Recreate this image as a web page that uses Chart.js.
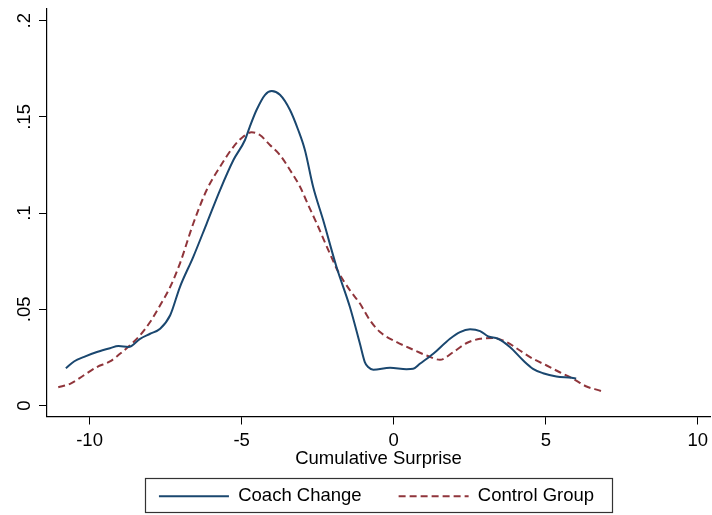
<!DOCTYPE html>
<html>
<head>
<meta charset="utf-8">
<script src="https://cdn.jsdelivr.net/npm/chart.js@4.4.1/dist/chart.umd.min.js"></script>
<style>
html,body{margin:0;padding:0;background:#fff;}
#wrap{position:relative;width:712px;height:515px;}
</style>
</head>
<body>
<div id="wrap"><canvas id="c" width="712" height="515"></canvas></div>
<script>
// ---- data ----
const coachX = [-10.78,-10.5,-10.2,-9.76,-9.33,-9.05,-8.72,-8.34,-8.01,-7.68,-7.35,-7.03,-6.59,-6.15,-5.71,-5.27,-4.89,-4.73,-4.51,-4.23,-4.01,-3.74,-3.41,-3.14,-2.92,-2.65,-2.32,-1.88,-1.44,-1.11,-0.95,-0.84,-0.67,-0.12,0.42,0.64,0.86,1.30,1.85,2.18,2.51,2.84,3.11,3.43,3.82,4.26,4.58,4.91,5.35,5.85,6.0];
const coachY = [0.0194,0.0230,0.0252,0.0278,0.0298,0.0309,0.0304,0.0347,0.0373,0.0399,0.0469,0.0616,0.0773,0.0946,0.1120,0.1276,0.1380,0.1450,0.1536,0.1615,0.1635,0.1615,0.1536,0.1432,0.1328,0.1137,0.0964,0.0720,0.0512,0.0321,0.0226,0.0200,0.0186,0.0196,0.0189,0.0191,0.0217,0.0269,0.0347,0.0382,0.0396,0.0387,0.0359,0.0347,0.0304,0.0234,0.0191,0.0168,0.0151,0.0144,0.0140];
const controlX = [-11.03,-10.64,-10.2,-9.76,-9.33,-9.0,-8.67,-8.34,-8.01,-7.68,-7.35,-7.03,-6.59,-6.15,-5.71,-5.27,-4.95,-4.67,-4.40,-4.07,-3.74,-3.41,-3.08,-2.81,-2.53,-2.10,-1.82,-1.44,-1.11,-0.78,-0.45,0.10,0.64,1.08,1.52,1.96,2.40,2.84,3.27,3.71,4.15,4.58,5.03,5.46,5.90,6.34,6.83,6.9];
const controlY = [0.0095,0.0113,0.0156,0.0200,0.0229,0.0269,0.0313,0.0365,0.0434,0.0521,0.0616,0.0738,0.0946,0.1120,0.1241,0.1345,0.1397,0.1420,0.1406,0.1354,0.1302,0.1224,0.1137,0.1042,0.0946,0.0790,0.0694,0.0599,0.0530,0.0443,0.0382,0.0330,0.0290,0.0260,0.0238,0.0278,0.0325,0.0347,0.0351,0.0330,0.0286,0.0243,0.0208,0.0173,0.0139,0.0099,0.0075,0.0070];
const xTicks = [-10,-5,0,5,10];
const yTicks = [0,0.05,0.1,0.15,0.2];
const seriesNames = ['Coach Change','Control Group'];
const xTitle = 'Cumulative Surprise';

const FONT = {family:'"Liberation Sans", Arial, sans-serif', size:18.5};
const pts = (xs, ys) => xs.map((x,i)=>({x:x, y:ys[i]}));

const legendBox = {
  id:'legendBox',
  beforeDraw(chart){
    const lg = chart.legend;
    lg.left = 43; lg.right = 710; lg.width = 667;
    lg.top = 498 - lg.options.labels.padding - 11.1;
  },
  afterDraw(chart){
    const ctx = chart.ctx;
    ctx.save();
    ctx.strokeStyle = '#333';
    ctx.lineWidth = 1.2;
    ctx.strokeRect(145.5, 478.5, 467, 34);
    ctx.restore();
  }
};

new Chart(document.getElementById('c'), {
  type:'line',
  data:{
    datasets:[
      {label:seriesNames[0], data:pts(coachX, coachY), borderColor:'#1a476f', backgroundColor:'#1a476f', borderWidth:2, pointRadius:0, cubicInterpolationMode:'monotone', fill:false, pointStyle:'line'},
      {label:seriesNames[1], data:pts(controlX, controlY), borderColor:'#90353b', backgroundColor:'#90353b', borderWidth:2, borderDash:[7,4], pointRadius:0, cubicInterpolationMode:'monotone', fill:false, pointStyle:'line'}
    ]
  },
  options:{
    responsive:false, animation:false,
    layout:{padding:{left:0, right:2, top:9, bottom:0}},
    plugins:{
      tooltip:{enabled:false},
      legend:{
        display:true, position:'bottom',
        labels:{usePointStyle:true, pointStyleWidth:70, boxWidth:70, padding:37, color:'#000', font:FONT,
          generateLabels(chart){
            const items = Chart.defaults.plugins.legend.labels.generateLabels(chart);
            items.forEach(it=>{
              const ds = chart.data.datasets[it.datasetIndex];
              it.lineDash = ds.borderDash || [];
              it.lineWidth = 2;
              it.strokeStyle = ds.borderColor;
              it.fillStyle = ds.borderColor;
              it.pointStyle = 'line';
            });
            return items;
          }
        }
      }
    },
    scales:{
      x:{
        type:'linear', min:-11.4, max:10.4,
        afterBuildTicks(s){ s.ticks = xTicks.map(v=>({value:v})); },
        afterFit(s){ s.height = 33; s.paddingLeft = 0; s.paddingRight = 0; },
        grid:{display:true, drawOnChartArea:false, drawTicks:true, tickLength:8, color:'#000', lineWidth:1},
        border:{display:true, color:'#000', width:1.2},
        ticks:{color:'#000', font:FONT, padding:5, maxRotation:0, autoSkip:false,
          callback:(v)=>String(v)},
        title:{display:true, text:xTitle, color:'#000', font:FONT, padding:{top:0,bottom:-21}}
      },
      y:{
        type:'linear', min:-0.0057, max:0.2061,
        afterBuildTicks(s){ s.ticks = yTicks.map(v=>({value:v})); },
        afterFit(s){ s.width = 47; s.paddingTop = 0; s.paddingBottom = 0; },
        grid:{display:true, drawOnChartArea:false, drawTicks:true, tickLength:8, color:'#000', lineWidth:1},
        border:{display:true, color:'#000', width:1.2},
        ticks:{color:'#000', font:FONT, padding:1, minRotation:90, maxRotation:90, crossAlign:'center', autoSkip:false,
          callback:(v)=> v===0 ? '0' : String(v).replace(/^0/,'')}
      }
    }
  },
  plugins:[legendBox]
});
</script>
</body>
</html>
